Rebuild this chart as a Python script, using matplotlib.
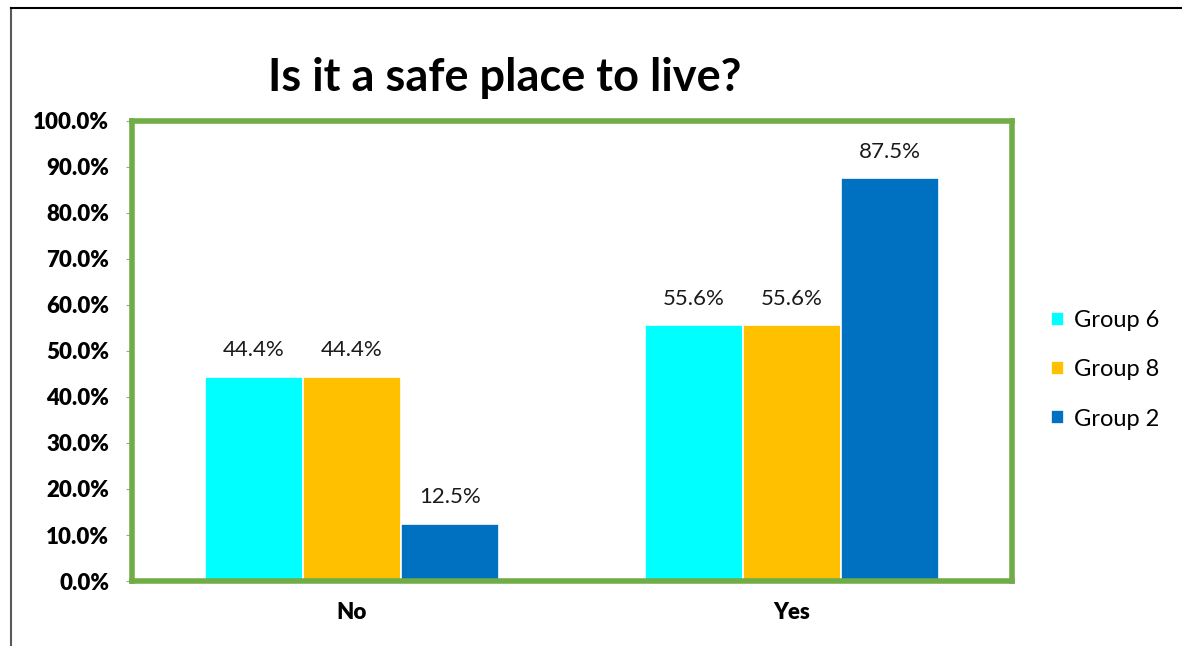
import matplotlib
matplotlib.use("Agg")
import matplotlib.pyplot as plt
from matplotlib.lines import Line2D
from matplotlib.ticker import FuncFormatter
import numpy as np

categories = ["No", "Yes"]
series_names = ["Group 6", "Group 8", "Group 2"]
group6 = [44.4, 55.6]
group8 = [44.4, 55.6]
group2 = [12.5, 87.5]
colors = ["#00FFFF", "#FFC000", "#0070C0"]
y_ticks = [0, 10, 20, 30, 40, 50, 60, 70, 80, 90, 100]

plt.rcParams["font.family"] = ["Lato", "DejaVu Sans"]

fig = plt.figure(figsize=(11.82, 6.46), dpi=100)
W, H = 1182, 646

def fx(px):
    return px / W

def fy(py):
    return 1 - py / H

# outer chart-area border (left and top)
fig.add_artist(Line2D([fx(11), fx(11)], [fy(8), 0], color="#595959", lw=1.5))
fig.add_artist(Line2D([fx(11), 1], [fy(8), fy(8)], color="black", lw=1.5))

ax_left, ax_right, ax_top, ax_bottom = 132, 1012, 121, 581
ax = fig.add_axes([fx(ax_left), fy(ax_bottom), fx(ax_right) - fx(ax_left),
                   fy(ax_top) - fy(ax_bottom)])

x = np.arange(len(categories))
step = 0.223
values = [group6, group8, group2]
for i, (name, vals, c) in enumerate(zip(series_names, values, colors)):
    pos = x + (i - 1) * step
    bars = ax.bar(pos, vals, step, color=c, edgecolor="white", linewidth=1.2,
                  label=name, zorder=2)
    for b, v in zip(bars, vals):
        ax.text(b.get_x() + b.get_width() / 2, v + 5.8, f"{v:.1f}%",
                ha="center", va="center", fontsize=16, color="#1a1a1a")

ax.set_xlim(-0.5, 1.5)
ax.set_ylim(0, 100)
ax.set_yticks(y_ticks)
ax.yaxis.set_major_formatter(FuncFormatter(lambda v, p: f"{v:.1f}%"))
ax.set_xticks(x)
ax.set_xticklabels(categories)
for lab in ax.get_yticklabels() + ax.get_xticklabels():
    lab.set_fontweight("heavy")
    lab.set_fontsize(16)
ax.tick_params(axis="y", length=4.5, color="#A0A0A0", pad=12)
ax.tick_params(axis="x", length=0, pad=15)

for s in ax.spines.values():
    s.set_color("#70AD47")
    s.set_linewidth(4)

ax_w = ax_right - ax_left
ax.legend(loc="center left", bbox_to_anchor=((1042 - ax_left) / ax_w, 0.459),
          frameon=False, fontsize=17, handlelength=0.55, handleheight=0.55,
          labelspacing=1.2, handletextpad=0.4, borderaxespad=0)

fig.text(fx(505), fy(78), "Is it a safe place to live?", ha="center", va="center",
         fontsize=32.5, fontweight="bold", color="black")

fig.savefig("out.png", dpi=100)
